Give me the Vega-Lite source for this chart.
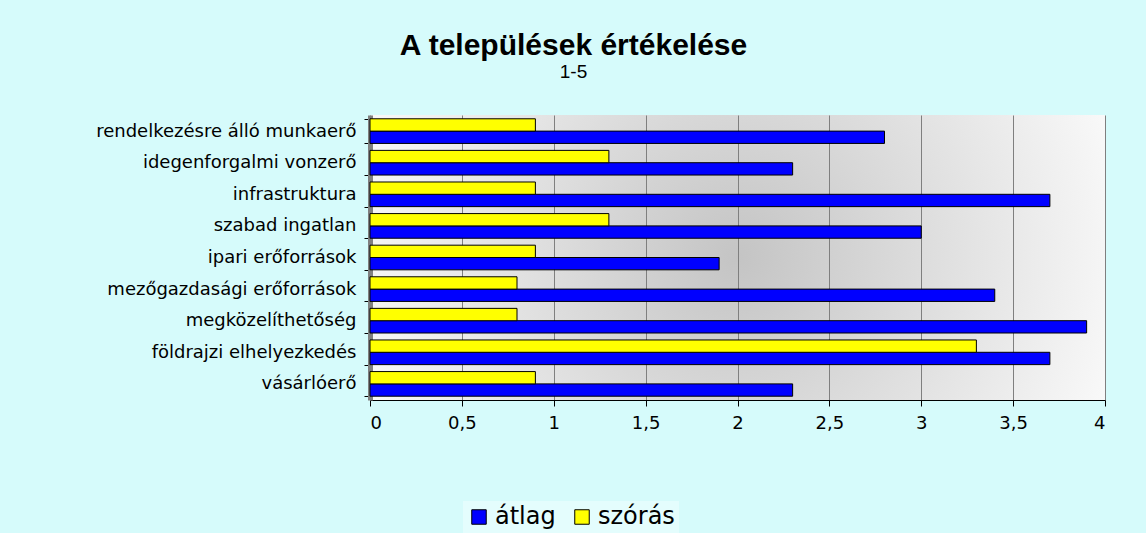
{
  "$schema": "https://vega.github.io/schema/vega-lite/v6.json",
  "width": 735,
  "height": 285,
  "autosize": {"type": "none"},
  "padding": {"left": 370, "top": 115, "right": 41, "bottom": 133},
  "background": "#d6fbfb",
  "title": {
    "text": "A települések értékelése",
    "subtitle": "1-5",
    "font": "Liberation Sans",
    "fontSize": 30,
    "fontWeight": "bold",
    "color": "#000000",
    "subtitleFont": "Liberation Sans",
    "subtitleFontSize": 19,
    "subtitleColor": "#000000",
    "subtitlePadding": 2,
    "anchor": "middle",
    "dx": -164,
    "offset": 24
  },
  "data": {
    "values": [
      {"kategoria": "rendelkezésre álló munkaerő", "sor": "átlag", "ertek": 2.8},
      {"kategoria": "rendelkezésre álló munkaerő", "sor": "szórás", "ertek": 0.9},
      {"kategoria": "idegenforgalmi vonzerő", "sor": "átlag", "ertek": 2.3},
      {"kategoria": "idegenforgalmi vonzerő", "sor": "szórás", "ertek": 1.3},
      {"kategoria": "infrastruktura", "sor": "átlag", "ertek": 3.7},
      {"kategoria": "infrastruktura", "sor": "szórás", "ertek": 0.9},
      {"kategoria": "szabad ingatlan", "sor": "átlag", "ertek": 3.0},
      {"kategoria": "szabad ingatlan", "sor": "szórás", "ertek": 1.3},
      {"kategoria": "ipari erőforrások", "sor": "átlag", "ertek": 1.9},
      {"kategoria": "ipari erőforrások", "sor": "szórás", "ertek": 0.9},
      {"kategoria": "mezőgazdasági erőforrások", "sor": "átlag", "ertek": 3.4},
      {"kategoria": "mezőgazdasági erőforrások", "sor": "szórás", "ertek": 0.8},
      {"kategoria": "megközelíthetőség", "sor": "átlag", "ertek": 3.9},
      {"kategoria": "megközelíthetőség", "sor": "szórás", "ertek": 0.8},
      {"kategoria": "földrajzi elhelyezkedés", "sor": "átlag", "ertek": 3.7},
      {"kategoria": "földrajzi elhelyezkedés", "sor": "szórás", "ertek": 3.3},
      {"kategoria": "vásárlóerő", "sor": "átlag", "ertek": 2.3},
      {"kategoria": "vásárlóerő", "sor": "szórás", "ertek": 0.9}
    ]
  },
  "mark": {"type": "bar", "stroke": "#000000", "strokeWidth": 1},
  "encoding": {
    "y": {
      "field": "kategoria",
      "type": "nominal",
      "sort": null,
      "scale": {"paddingInner": 0.22, "paddingOuter": 0.12},
      "axis": {
        "title": null,
        "labelFont": "DejaVu Sans",
        "labelFontSize": 18,
        "labelLimit": 0,
        "labelColor": "#000000",
        "labelPadding": 8,
        "tickBand": "extent",
        "tickColor": "#000000",
        "tickSize": 6,
        "domainColor": "#808080",
        "domainWidth": 5
      }
    },
    "yOffset": {
      "field": "sor",
      "type": "nominal",
      "scale": {"domain": ["szórás", "átlag"], "paddingInner": 0}
    },
    "x": {
      "field": "ertek",
      "type": "quantitative",
      "scale": {"domain": [0, 4], "nice": false},
      "axis": {
        "title": null,
        "values": [0, 0.5, 1, 1.5, 2, 2.5, 3, 3.5, 4],
        "labelExpr": "replace(format(datum.value, '~g'), '.', ',')",
        "labelFont": "DejaVu Sans",
        "labelFontSize": 18,
        "labelColor": "#000000",
        "labelPadding": 8,
        "tickColor": "#000000",
        "tickSize": 6,
        "domainColor": "#000000",
        "grid": true,
        "gridColor": "#7f7f7f",
        "gridWidth": 1
      }
    },
    "color": {
      "field": "sor",
      "type": "nominal",
      "scale": {"domain": ["átlag", "szórás"], "range": ["#0000ff", "#ffff00"]},
      "legend": {
        "title": null,
        "orient": "none",
        "direction": "horizontal",
        "legendX": 93,
        "legendY": 386,
        "symbolType": "square",
        "symbolSize": 210,
        "symbolStrokeColor": "#000000",
        "symbolStrokeWidth": 1,
        "labelFont": "DejaVu Sans",
        "labelFontSize": 24,
        "labelColor": "#000000",
        "columnPadding": 14,
        "fillColor": "#e4fdfd",
        "padding": 4
      }
    }
  },
  "config": {
    "view": {
      "stroke": null,
      "fill": {
        "gradient": "radial",
        "x1": 0.5, "y1": 0.5, "r1": 0, "x2": 0.5, "y2": 0.5, "r2": 0.6,
        "stops": [
          {"offset": 0, "color": "#c4c4c4"},
          {"offset": 1, "color": "#ffffff"}
        ]
      }
    }
  }
}
